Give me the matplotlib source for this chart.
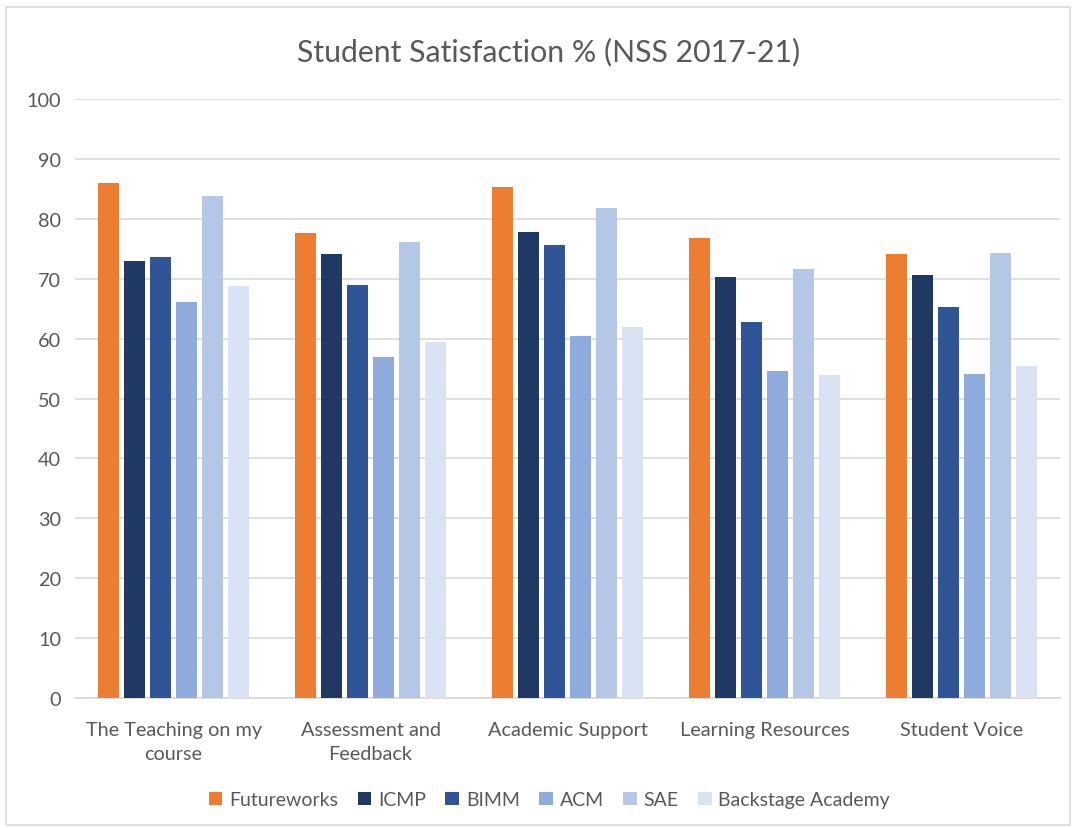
import matplotlib.pyplot as plt
import numpy as np
from matplotlib.patches import Rectangle

plt.rcParams['font.family'] = ['Lato', 'DejaVu Sans']

categories = ['The Teaching on my\ncourse', 'Assessment and\nFeedback', 'Academic Support',
              'Learning Resources', 'Student Voice']
providers = ['Futureworks', 'ICMP', 'BIMM', 'ACM', 'SAE', 'Backstage Academy']
futureworks = [86.1, 77.6, 85.3, 76.8, 74.2]
icmp = [73.0, 74.2, 77.9, 70.3, 70.7]
bimm = [73.7, 69.0, 75.7, 62.8, 65.3]
acm = [66.2, 57.0, 60.4, 54.6, 54.1]
sae = [83.9, 76.2, 81.8, 71.7, 74.4]
backstage = [68.8, 59.4, 62.0, 53.9, 55.4]
series = [futureworks, icmp, bimm, acm, sae, backstage]
colors = ['#ED7D31', '#1F3864', '#2F5597', '#8FAADC', '#B4C7E7', '#DAE3F3']

fig = plt.figure(figsize=(10.73, 8.29), dpi=100)
ax = fig.add_axes([0.070, 0.157, 0.918, 0.722])

x = np.arange(len(categories))
pitch = 0.132
width = 0.105
for i, (vals, name, c) in enumerate(zip(series, providers, colors)):
    ax.bar(x + (i - 2.5) * pitch, vals, width, color=c, label=name, zorder=3)

ax.set_xlim(-0.5, len(categories) - 0.5)
ax.set_ylim(0, 100)
ax.set_yticks(range(0, 101, 10))
ax.set_xticks(x)
ax.set_xticklabels(categories, linespacing=1.45)
ax.yaxis.grid(True, color='#D9D9D9', linewidth=1.2, zorder=0)
for s in ['top', 'right', 'left']:
    ax.spines[s].set_visible(False)
ax.spines['bottom'].set_color('#D9D9D9')
ax.spines['bottom'].set_linewidth(1.2)
ax.tick_params(axis='both', length=0, colors='#595959', labelsize=14.3)
ax.tick_params(axis='y', pad=10)
ax.tick_params(axis='x', pad=17)

fig.text(0.511, 0.937, 'Student Satisfaction % (NSS 2017-21)', ha='center', va='center',
         fontsize=21.8, color='#595959')

ax.legend(loc='center', bbox_to_anchor=(0.512, 0.034), bbox_transform=fig.transFigure,
          ncol=6, frameon=False, fontsize=14, handlelength=0.7, handleheight=0.7,
          handletextpad=0.35, columnspacing=1.0, labelcolor='#595959')

fig.patches.append(Rectangle((0.006, 0.004), 0.991, 0.986, transform=fig.transFigure,
                             fill=False, edgecolor='#D9D9D9', linewidth=1.2))

fig.savefig('out.png', dpi=100)
